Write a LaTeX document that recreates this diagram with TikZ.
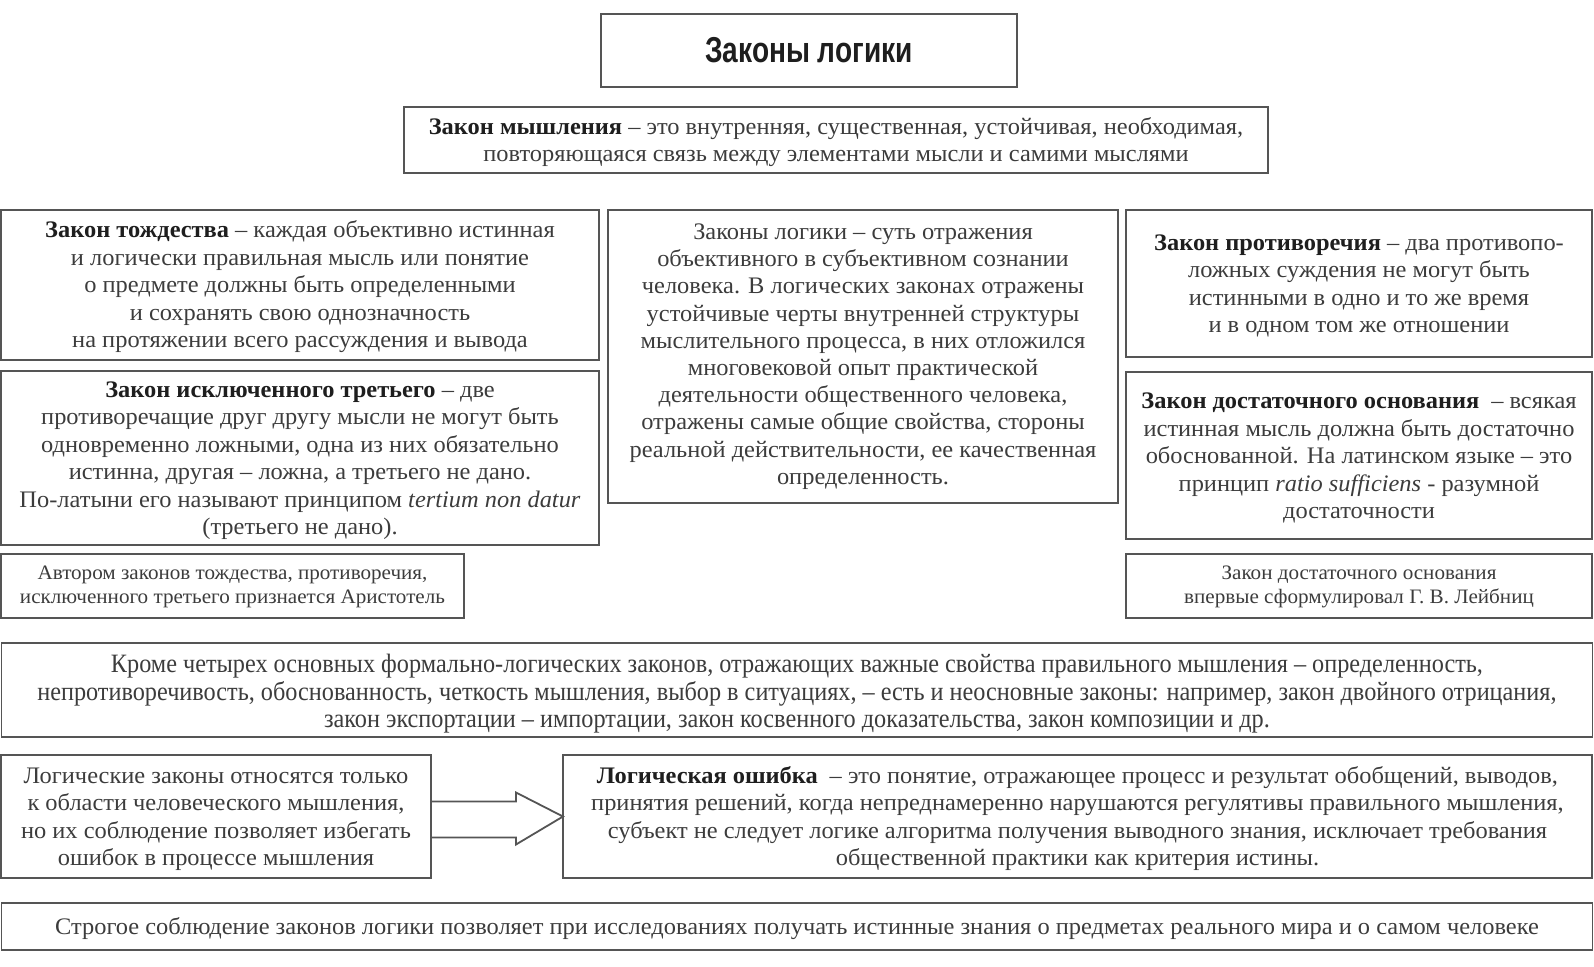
\documentclass[tikz,border=0pt]{standalone}
\usepackage{fontspec}
\setmainfont[FakeStretch=1.03]{Liberation Serif}
\newfontfamily\condserif[FakeStretch=0.915]{Liberation Serif}
\newfontfamily\titlefont[FakeStretch=0.78]{Liberation Sans}
\usetikzlibrary{calc}
\definecolor{boxgray}{HTML}{555555}
\definecolor{txtgray}{HTML}{3C3C3C}
\definecolor{boldgray}{HTML}{1E1E1E}
\newcommand\bt[1]{{\color{boldgray}\bfseries #1}}
\newcommand\up{\rule{0pt}{21pt}}
\newcommand\upsmall{\rule{0pt}{16.2pt}}
\newcommand\upwide{\rule{0pt}{26.5pt}}
\tikzset{
  frame/.style={draw=boxgray, line width=1.8pt, align=center, inner sep=0pt, outer sep=0pt,
    text=txtgray},
  box/.style={frame, font=\fontsize{23.7}{27.5}\selectfont},
  smallbox/.style={frame, font=\fontsize{20.5}{24}\selectfont},
  widebox/.style={frame, font=\condserif\fontsize{26.5}{27.5}\selectfont},
  titlebox/.style={frame, text=boldgray, font=\titlefont\bfseries\fontsize{36}{40}\selectfont},
  arrowline/.style={draw=boxgray, line width=1.8pt, line join=miter}
}
\begin{document}
\begin{tikzpicture}[x=1pt,y=-1pt]
\useasboundingbox (0,0) rectangle (1594,966);
\fill[white] (0,0) rectangle (1594,966);

% title
\node[titlebox, minimum width=416, minimum height=73] (title) at (809,50.5) {Законы логики};

% law of thinking
\node[box, minimum width=864, minimum height=66] (law) at (836,140)
 {\up\bt{Закон мышления} – это внутренняя, существенная, устойчивая, необходимая,\\
  повторяющаяся связь между элементами мысли и самими мыслями};

% left column
\node[box, minimum width=598, minimum height=150] (ident) at (300,285)
 {\up\bt{Закон тождества} – каждая объективно истинная\\
  и логически правильная мысль или понятие\\
  о предмете должны быть определенными\\
  и сохранять свою однозначность\\
  на протяжении всего рассуждения и вывода};

\node[box, minimum width=598, minimum height=174] (excl) at (300,458)
 {\up\bt{Закон исключенного третьего} – две\\
  противоречащие друг другу мысли не могут быть\\
  одновременно ложными, одна из них обязательно\\
  истинна, другая – ложна, а третьего не дано.\\
  По-латыни его называют принципом \textit{tertium non datur}\\
  (третьего не дано).};

\node[smallbox, minimum width=463, minimum height=64] (arist) at (232.5,586)
 {\upsmall Автором законов тождества, противоречия,\\
  исключенного третьего признается Аристотель};

% centre
\node[box, minimum width=510, minimum height=293, font=\fontsize{23.7}{27.2}\selectfont] (centre) at (863,356.5)
 {Законы логики – суть отражения\\
  объективного в субъективном сознании\\
  человека. В логических законах отражены\\
  устойчивые черты внутренней структуры\\
  мыслительного процесса, в них отложился\\
  многовековой опыт практической\\
  деятельности общественного человека,\\
  отражены самые общие свойства, стороны\\
  реальной действительности, ее качественная\\
  определенность.};

% right column
\node[box, minimum width=466, minimum height=147] (contr) at (1359,283.5)
 {\up\bt{Закон противоречия} – два противопо-\\
  ложных суждения не могут быть\\
  истинными в одно и то же время\\
  и в одном том же отношении};

\node[box, minimum width=466, minimum height=167] (suff) at (1359,455.5)
 {\up\bt{Закон достаточного основания}\enspace – всякая\\
  истинная мысль должна быть достаточно\\
  обоснованной. На латинском языке – это\\
  принцип \textit{ratio sufficiens} - разумной\\
  достаточности};

\node[smallbox, minimum width=466, minimum height=64] (leib) at (1359,586)
 {\upsmall Закон достаточного основания\\
  впервые сформулировал Г. В. Лейбниц};

% wide box
\node[widebox, minimum width=1591, minimum height=94] (other) at (797,690)
 {\upwide Кроме четырех основных формально-логических законов, отражающих важные свойства правильного мышления – определенность,\\
  непротиворечивость, обоснованность, четкость мышления, выбор в ситуациях, – есть и неосновные законы: например, закон двойного отрицания,\\
  закон экспортации – импортации, закон косвенного доказательства, закон композиции и др.};

% bottom row
\node[box, minimum width=430, minimum height=123] (only) at (216,816.5)
 {\up Логические законы относятся только\\
  к области человеческого мышления,\\
  но их соблюдение позволяет избегать\\
  ошибок в процессе мышления};

\node[box, minimum width=1029, minimum height=123] (err) at (1077.5,816.5)
 {\up\bt{Логическая ошибка}\enspace – это понятие, отражающее процесс и результат обобщений, выводов,\\
  принятия решений, когда непреднамеренно нарушаются регулятивы правильного мышления,\\
  субъект не следует логике алгоритма получения выводного знания, исключает требования\\
  общественной практики как критерия истины.};

\draw[arrowline] ($(only.east)+(0,-15)$) -- ($(only.east)+(85,-15)$) -- ($(only.east)+(85,-24)$)
  -- (err.west) -- ($(only.east)+(85,28)$) -- ($(only.east)+(85,21)$) -- ($(only.east)+(0,21)$);

\node[box, minimum width=1591, minimum height=47] (strict) at (797,926.5)
 {\up Строгое соблюдение законов логики позволяет при исследованиях получать истинные знания о предметах реального мира и о самом человеке};
\end{tikzpicture}
\end{document}
